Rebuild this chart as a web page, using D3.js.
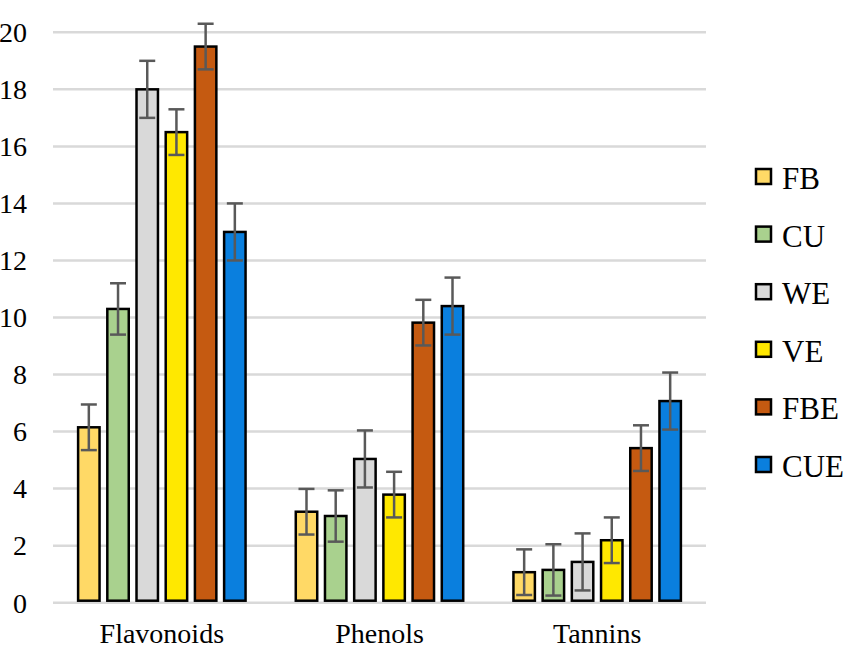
<!DOCTYPE html>
<html>
<head>
<meta charset="utf-8">
<script src="https://cdn.jsdelivr.net/npm/d3@7"></script>
</head>
<body style="margin:0">
<svg id="chart" width="854" height="646"></svg>
<script>
// Chart data
const categories = ["Flavonoids", "Phenols", "Tannins"];
const seriesNames = ["FB", "CU", "WE", "VE", "FBE", "CUE"];
const seriesColors = ["#FFD966", "#A9D18E", "#D9D9D9", "#FFE800", "#C55A11", "#0A7FDE"];
// values per series, in category order
const fbValues  = [6.15, 3.19, 1.07];
const cuValues  = [10.3, 3.04, 1.15];
const weValues  = [18.0, 5.04, 1.43];
const veValues  = [16.5, 3.79, 2.19];
const fbeValues = [19.5, 9.82, 5.42];
const cueValues = [13.0, 10.4, 7.07];
const errValues = [0.8, 0.9, 1.0, 0.8, 0.8, 1.0];
const yTicks = [0, 2, 4, 6, 8, 10, 12, 14, 16, 18, 20];

const allValues = [fbValues, cuValues, weValues, veValues, fbeValues, cueValues];

let rows = [];
categories.forEach(function(cat, ci) {
    seriesNames.forEach(function(s, si) {
        rows.push({
            "cat": cat,
            "series": s,
            "value": allValues[si][ci],
            "err": errValues[si],
            "color": seriesColors[si]
        });
    });
});

const svg = d3.select("#chart");
const plotLeft = 53, plotRight = 706, plotTop = 32.3, plotBottom = 602.7;

const y = d3.scaleLinear().domain([0, 20]).range([plotBottom, plotTop]);
const x0 = d3.scaleBand().domain(categories).range([plotLeft, plotRight]).padding(0);
const x1 = d3.scaleBand().domain(seriesNames).range([0, x0.bandwidth()])
    .paddingInner(0.18).paddingOuter(0.817);

// Gridlines
svg.append("g")
    .selectAll("line")
    .data(yTicks)
    .enter()
    .append("line")
    .attr("x1", plotLeft)
    .attr("x2", plotRight)
    .attr("y1", function(d) { return y(d); })
    .attr("y2", function(d) { return y(d); })
    .attr("stroke", "#D9D9D9")
    .attr("stroke-width", 2.5);

// Y axis labels (plain text on the svg root)
svg.selectAll("text.ylab")
    .data(yTicks)
    .enter()
    .append("text")
    .attr("class", "ylab")
    .attr("x", 27)
    .attr("y", function(d) { return y(d); })
    .attr("dy", "0.35em")
    .attr("text-anchor", "end")
    .style("font-family", "'Liberation Serif'")
    .attr("font-size", 28)
    .text(function(d) { return d; });

// X axis labels
svg.selectAll("text.xlab")
    .data(categories)
    .enter()
    .append("text")
    .attr("class", "xlab")
    .attr("x", function(d) { return x0(d) + x0.bandwidth() / 2; })
    .attr("y", plotBottom + 40)
    .attr("text-anchor", "middle")
    .style("font-family", "'Liberation Serif'")
    .attr("font-size", 28)
    .text(function(d) { return d; });

// Bars
const groups = svg.append("g")
    .selectAll("g")
    .data(rows)
    .enter()
    .append("g")
    .attr("transform", function(d) { return "translate(" + (x0(d.cat) + x1(d.series)) + ",0)"; });

groups.append("rect")
    .attr("x", 1.25)
    .attr("width", x1.bandwidth() - 2.5)
    .attr("y", function(d) { return y(d.value); })
    .attr("height", function(d) { return y(0) - y(d.value) - 2; })
    .attr("fill", function(d) { return d.color; })
    .attr("stroke", "#000")
    .attr("stroke-width", 2.5);

// Error bars
const cap = 8;
groups.append("line")
    .attr("x1", x1.bandwidth() / 2)
    .attr("x2", x1.bandwidth() / 2)
    .attr("y1", function(d) { return y(d.value - d.err); })
    .attr("y2", function(d) { return y(d.value + d.err); })
    .attr("stroke", "#595959")
    .attr("stroke-width", 2.5);
groups.append("line")
    .attr("x1", x1.bandwidth() / 2 - cap)
    .attr("x2", x1.bandwidth() / 2 + cap)
    .attr("y1", function(d) { return y(d.value + d.err); })
    .attr("y2", function(d) { return y(d.value + d.err); })
    .attr("stroke", "#595959")
    .attr("stroke-width", 2.5);
groups.append("line")
    .attr("x1", x1.bandwidth() / 2 - cap)
    .attr("x2", x1.bandwidth() / 2 + cap)
    .attr("y1", function(d) { return y(d.value - d.err); })
    .attr("y2", function(d) { return y(d.value - d.err); })
    .attr("stroke", "#595959")
    .attr("stroke-width", 2.5);

// Legend
const legendY = function(i) { return 177 + i * 57.6; };

svg.selectAll("rect.swatch")
    .data(seriesNames)
    .enter()
    .append("rect")
    .attr("class", "swatch")
    .attr("x", 756)
    .attr("y", function(d, i) { return legendY(i) - 8; })
    .attr("width", 15)
    .attr("height", 15)
    .attr("fill", function(d, i) { return seriesColors[i]; })
    .attr("stroke", "#000")
    .attr("stroke-width", 2.5);

svg.selectAll("text.leg")
    .data(seriesNames)
    .enter()
    .append("text")
    .attr("class", "leg")
    .attr("x", 782)
    .attr("y", function(d, i) { return legendY(i) + 12; })
    .style("font-family", "'Liberation Serif'")
    .attr("font-size", 31)
    .text(function(d) { return d; });
</script>
</body>
</html>
